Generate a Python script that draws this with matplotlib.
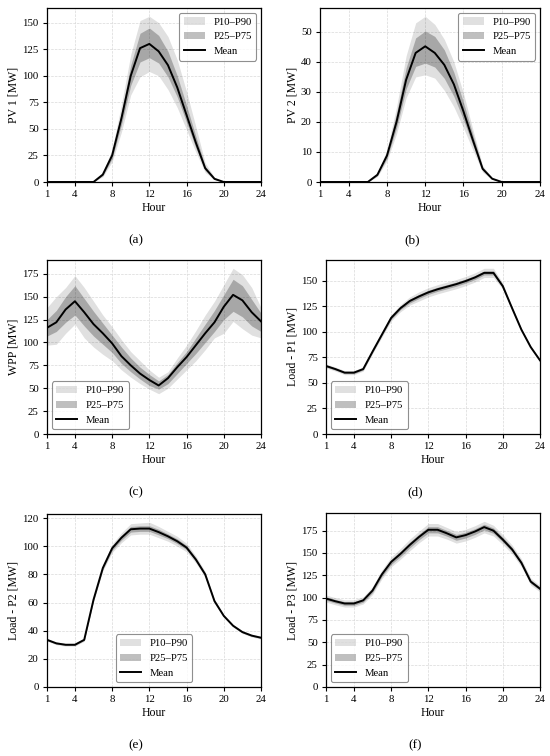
import numpy as np
import matplotlib
matplotlib.use("Agg")
import matplotlib.pyplot as plt

plt.rcParams['font.family'] = ['Liberation Serif', 'DejaVu Serif']

# Hours of the day
hours = np.arange(1, 25)

# PV 1 [MW]
pv1_p10 = [0, 0, 0, 0, 0, 0, 5, 19, 47, 82, 99, 104, 100, 87, 70, 49, 28, 9, 2, 0, 0, 0, 0, 0]
pv1_p25 = [0, 0, 0, 0, 0, 0, 6, 22, 54, 91, 113, 117, 112, 99, 80, 56, 32, 11, 2.5, 0, 0, 0, 0, 0]
pv1_mean = [0, 0, 0, 0, 0, 0, 7, 25, 60, 100, 126, 130, 123, 110, 89, 63, 37, 13, 3, 0, 0, 0, 0, 0]
pv1_p75 = [0, 0, 0, 0, 0, 0, 8, 28, 66, 110, 140, 145, 138, 123, 100, 72, 43, 15, 3.5, 0, 0, 0, 0, 0]
pv1_p90 = [0, 0, 0, 0, 0, 0, 9, 31, 73, 120, 152, 156, 150, 137, 115, 85, 52, 18, 4.5, 0, 0, 0, 0, 0]

# PV 2 [MW]
pv2_p10 = [0, 0, 0, 0, 0, 0, 1.8, 7, 16, 28, 35, 35.7, 34.6, 30.5, 25, 18, 10.5, 3.3, 0.8, 0, 0, 0, 0, 0]
pv2_p25 = [0, 0, 0, 0, 0, 0, 2.1, 7.9, 18, 31, 38.5, 39.6, 38.3, 34.5, 28.5, 20.7, 12.1, 3.9, 0.95, 0, 0, 0, 0, 0]
pv2_mean = [0, 0, 0, 0, 0, 0, 2.4, 8.8, 20, 34, 43, 45.2, 43, 39, 32.5, 23.5, 13.8, 4.4, 1.1, 0, 0, 0, 0, 0]
pv2_p75 = [0, 0, 0, 0, 0, 0, 2.7, 9.8, 23, 38, 48, 50.3, 48.5, 44, 36.5, 26.5, 15.6, 5, 1.25, 0, 0, 0, 0, 0]
pv2_p90 = [0, 0, 0, 0, 0, 0, 3, 10.8, 25, 42, 53, 55.2, 52.5, 47.5, 40, 29.5, 17.3, 5.5, 1.4, 0, 0, 0, 0, 0]

# WPP [MW]
wpp_p10 = [97, 98, 110, 120, 105, 95, 87, 80, 70, 62, 55, 49, 44, 50, 60, 70, 80, 92, 105, 110, 123, 115, 108, 105]
wpp_p25 = [107, 112, 122, 130, 118, 107, 98, 89, 77, 68, 60, 53, 49, 55, 66, 77, 88, 100, 112, 125, 134, 128, 118, 112]
wpp_mean = [116, 122, 136, 145, 133, 120, 110, 99, 85, 75, 66, 59, 53, 61, 73, 84, 97, 110, 122, 139, 152, 146, 133, 123]
wpp_p75 = [125, 135, 150, 162, 148, 134, 121, 108, 95, 83, 73, 65, 58, 65, 78, 90, 105, 120, 135, 152, 169, 162, 147, 132]
wpp_p90 = [138, 150, 160, 173, 160, 145, 130, 117, 103, 90, 80, 70, 62, 68, 83, 97, 113, 130, 145, 163, 181, 174, 160, 138]

# Load - P1 [MW]
p1_p10 = [64.5, 61.5, 58, 58, 61.5, 78.5, 94.5, 110.5, 119.5, 126, 130, 134, 137, 139.5, 142, 145, 148.5, 153, 153, 141.5, 121, 100.5, 83.5, 71]
p1_p25 = [65.5, 62.5, 59, 59, 62.5, 79.5, 96, 112, 121.5, 128, 132.5, 136.5, 139.5, 142, 144.5, 147.5, 151, 155.5, 155.5, 143, 122, 101.2, 84.2, 71.5]
p1_mean = [66.5, 63.5, 60, 60, 63.5, 80.5, 97, 113.5, 123, 130, 134.5, 138.5, 141.5, 144, 146.5, 149.5, 153, 157.5, 157.5, 144.5, 123, 102, 85, 72]
p1_p75 = [67.5, 64.5, 61, 61, 64.5, 81.5, 98, 115, 124.5, 132, 136.5, 140.5, 143.5, 146, 148.5, 151.5, 155, 159.5, 159.5, 146, 124, 102.8, 85.8, 72.5]
p1_p90 = [68.5, 65.5, 62, 62, 65.5, 82.5, 99.5, 116.5, 126.5, 134, 139, 143, 146, 148.5, 151, 154, 157.5, 162, 162, 147.5, 125, 103.5, 86.5, 73]

# Load - P2 [MW]
p2_p10 = [32.5, 30, 29, 29, 32.5, 60.5, 82.5, 95.5, 102.5, 108, 108.5, 108.5, 106, 103.5, 100, 96, 88, 78, 59.5, 49.5, 42.5, 38, 35.5, 34]
p2_p25 = [33, 30.5, 29.5, 29.5, 33, 61.3, 83.5, 97, 104.3, 110, 110.5, 110.5, 108, 105.3, 101.8, 97.5, 89.3, 79, 60.3, 50, 43, 38.5, 36, 34.5]
p2_mean = [33.5, 31, 30, 30, 33.5, 62, 84.5, 98.5, 106, 112, 112.5, 112.5, 110, 107, 103.5, 99, 90.5, 80, 61, 50.5, 43.5, 39, 36.5, 35]
p2_p75 = [34, 31.5, 30.5, 30.5, 34, 62.7, 85.5, 100, 107.7, 114, 114.5, 114.5, 112, 108.7, 105.2, 100.5, 91.7, 81, 61.7, 51, 44, 39.5, 37, 35.5]
p2_p90 = [34.5, 32, 31, 31, 34.5, 63.5, 86.5, 101.5, 109.5, 116, 116.5, 117, 114, 110.5, 107, 102, 93, 82, 62.5, 51.5, 44.5, 40, 37.5, 36]

# Load - P3 [MW]
p3_p10 = [95, 92, 89.5, 89.5, 93, 103.5, 121, 134.5, 143, 152.5, 161.5, 169, 169, 165.5, 161, 163.5, 167.5, 172.5, 169, 159.5, 149, 134.5, 114, 106.5]
p3_p25 = [97, 94, 91.5, 91.5, 95, 105.8, 123.5, 137.2, 146, 155.8, 164.8, 172.5, 172.5, 168.8, 164.2, 166.8, 170.8, 175.8, 172, 162.3, 151.5, 136.8, 116, 108.3]
p3_mean = [99, 96, 93.5, 93.5, 97, 108, 126, 140, 149, 159, 168, 176, 176, 172, 167.5, 170, 174, 179, 175, 165, 154, 139, 118, 110]
p3_p75 = [101, 98, 95.5, 95.5, 99, 110.2, 128.5, 142.8, 152, 162.2, 171.2, 179.5, 179.5, 175.2, 170.8, 173.2, 177.2, 182.2, 178, 167.7, 156.5, 141.2, 120, 111.7]
p3_p90 = [103, 100, 97.5, 97.5, 101, 112.5, 131, 145.5, 155, 165.5, 174.5, 183, 183, 178.5, 174, 176.5, 180.5, 185.5, 181, 170.5, 159, 143.5, 122, 113.5]

xticks = [1, 4, 8, 12, 16, 20, 24]

W, H = 550, 756
fig = plt.figure(figsize=(W / 100, H / 100), dpi=100)


def px_axes(x0, x1, y0, y1):
    # pixel box (left, right, top, bottom) -> figure axes
    return fig.add_axes([x0 / W, (H - y1) / H, (x1 - x0) / W, (y1 - y0) / H])


panels = [
    # box, ylabel, data, legend loc, yticks, caption
    ((47, 261, 8, 182), 'PV 1 [MW]', (pv1_p10, pv1_p25, pv1_mean, pv1_p75, pv1_p90), 'upper right', np.arange(0, 151, 25), '(a)'),
    ((320, 540, 8, 182), 'PV 2 [MW]', (pv2_p10, pv2_p25, pv2_mean, pv2_p75, pv2_p90), 'upper right', np.arange(0, 51, 10), '(b)'),
    ((47, 261, 260, 434), 'WPP [MW]', (wpp_p10, wpp_p25, wpp_mean, wpp_p75, wpp_p90), 'lower left', np.arange(0, 176, 25), '(c)'),
    ((326, 540, 260, 434), 'Load - P1 [MW]', (p1_p10, p1_p25, p1_mean, p1_p75, p1_p90), 'lower left', np.arange(0, 151, 25), '(d)'),
    ((47, 261, 514, 687), 'Load - P2 [MW]', (p2_p10, p2_p25, p2_mean, p2_p75, p2_p90), 'lower center', np.arange(0, 121, 20), '(e)'),
    ((326, 540, 513, 687), 'Load - P3 [MW]', (p3_p10, p3_p25, p3_mean, p3_p75, p3_p90), 'lower left', np.arange(0, 176, 25), '(f)'),
]

for box, ylab, (p10, p25, mean, p75, p90), loc, yt, cap in panels:
    ax = px_axes(*box)
    ax.fill_between(hours, p10, p90, color='black', alpha=0.12, lw=0, label='P10–P90')
    ax.fill_between(hours, p25, p75, color='black', alpha=0.25, lw=0, label='P25–P75')
    ax.plot(hours, mean, color='black', lw=1.4, label='Mean')
    ax.set_xlim(1, 24)
    ax.set_ylim(0, 1.05 * max(p90))
    ax.set_xticks(xticks)
    ax.set_yticks(yt)
    ax.tick_params(labelsize=7.8, length=3, width=0.8, pad=3)
    ax.grid(True, linestyle='--', linewidth=0.5, color='0.85')
    ax.set_axisbelow(True)
    for s in ax.spines.values():
        s.set_linewidth(0.9)
    ax.set_xlabel('Hour', fontsize=8.5, labelpad=2)
    ax.set_ylabel(ylab, fontsize=8.5, labelpad=2)
    leg = ax.legend(loc=loc, fontsize=7.7, frameon=True, borderaxespad=0.45)
    leg.get_frame().set_edgecolor('0.45')
    leg.get_frame().set_linewidth(0.8)
    cx = (box[0] + box[1]) / 2 - 18
    fig.text(cx / W, 1 - (box[3] + 58) / H, cap, ha='center', va='center', fontsize=9.5)

fig.savefig('out.png', dpi=100)
